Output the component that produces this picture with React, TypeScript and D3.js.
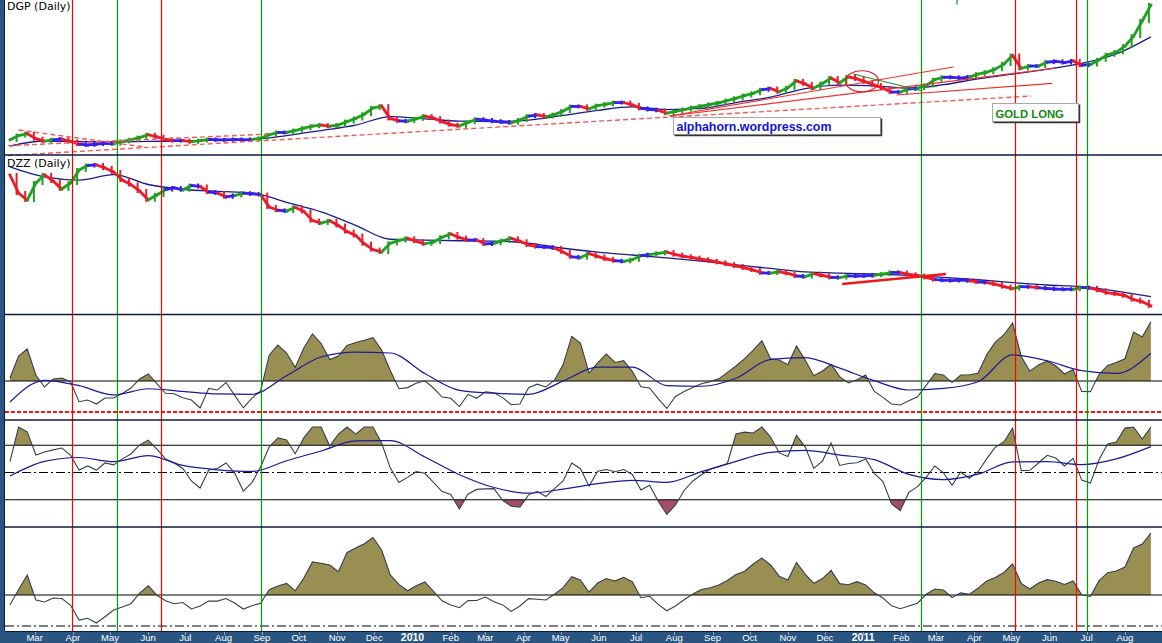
import React, { useEffect, useRef } from "react";
import * as d3 from "d3";

// weekly closes (Mondays, 9 Feb 2009 .. 22 Aug 2011)
const dgpClose = [
  25.3, 26.4, 26.9, 25.6, 25.0, 25.3, 25.5, 24.9, 24.2, 24.0,
  24.2, 24.4, 24.3, 24.9, 25.3, 25.9, 26.6, 26.1, 25.4, 25.1,
  25.1, 24.8, 25.1, 25.4, 25.3, 25.3, 25.4, 25.3, 25.4, 25.7,
  26.6, 27.2, 27.2, 27.7, 28.3, 28.8, 29.1, 28.8, 29.1, 30.0,
  30.8, 31.9, 33.5, 34.0, 30.8, 30.2, 30.1, 30.7, 31.4, 30.9,
  30.0, 29.2, 28.9, 29.8, 30.6, 30.4, 30.1, 29.9, 29.7, 30.4,
  31.4, 31.7, 31.3, 31.8, 32.7, 33.9, 33.9, 33.3, 34.1, 34.5,
  34.9, 34.9, 34.3, 33.4, 33.1, 32.9, 32.2, 32.6, 33.1, 33.6,
  34.0, 34.4, 34.8, 35.4, 36.0, 36.7, 37.3, 38.2, 38.5, 37.7,
  38.7, 40.5, 39.7, 38.6, 39.8, 41.2, 40.0, 41.5, 41.0, 40.2,
  39.4, 38.6, 37.6, 37.6, 38.4, 38.6, 39.3, 40.8, 41.4, 41.4,
  41.2, 41.5, 42.2, 42.7, 43.5, 44.8, 47.0, 43.7, 44.3, 44.3,
  45.3, 45.5, 45.2, 45.6, 44.5, 44.7, 45.9, 47.2, 47.9, 49.4,
  52.0, 55.9, 60.0,
];
// moving average, every 4th week
const dgpAvg = [
  23.7, 25.0, 24.9, 24.8, 24.9, 25.0, 25.2, 25.4, 26.4, 27.7, 29.1, 31.3,
  30.7, 30.1, 30.0, 30.4, 31.6, 32.9, 33.8, 33.1, 33.4, 34.9, 36.3, 38.5,
  39.4, 39.2, 38.6, 39.5, 41.0, 42.2, 43.5, 45.0, 47.4, 51.8,
];

const dzzClose = [
  11.98, 10.88, 10.45, 11.49, 11.98, 11.61, 11.13, 11.49, 12.28, 12.56,
  12.59, 12.41, 12.16, 11.67, 11.4, 11.0, 10.47, 10.76, 11.09, 11.19,
  11.08, 11.34, 11.28, 10.94, 10.88, 10.65, 10.73, 10.87, 10.83, 10.79,
  10.03, 9.83, 9.78, 10.01, 9.76, 9.2, 9.05, 9.19, 8.9, 8.53,
  8.29, 7.79, 7.43, 7.28, 7.81, 7.98, 8.12, 7.94, 7.78, 7.89,
  8.18, 8.38, 8.16, 8.01, 8.01, 7.77, 7.82, 7.97, 8.12, 7.94,
  7.71, 7.61, 7.59, 7.53, 7.29, 6.99, 6.94, 7.18, 7.01, 6.86,
  6.75, 6.71, 6.81, 7.06, 7.12, 7.2, 7.28, 7.12, 7.02, 6.94,
  6.84, 6.75, 6.65, 6.54, 6.43, 6.31, 6.18, 6.01, 6.0, 6.07,
  5.98, 5.82, 5.78, 5.96, 5.85, 5.74, 5.72, 5.82, 5.82, 5.83,
  5.87, 5.93, 6.04, 6.03, 5.92, 5.85, 5.73, 5.6, 5.56, 5.54,
  5.57, 5.53, 5.46, 5.42, 5.32, 5.17, 5.05, 5.17, 5.16, 5.1,
  5.06, 5.02, 5.01, 5.01, 5.12, 5.09, 4.95, 4.79, 4.73, 4.62,
  4.38, 4.25, 3.99,
];
const dzzAvg = [
  12.47, 11.86, 11.67, 12.0, 11.4, 11.11, 10.98, 10.89, 10.31, 9.73, 8.91, 8.06,
  8.01, 7.97, 7.95, 7.83, 7.51, 7.28, 7.1, 6.92, 6.72, 6.5, 6.28, 6.07,
  5.99, 5.94, 5.85, 5.74, 5.59, 5.42, 5.27, 5.17, 4.89, 4.56,
];

// panel 3 oscillator
const momentum = [
  32.9, 54.2, 61.0, 35.8, 24.2, 31.9, 32.9, 29.3, 10.0, 11.6,
  7.7, 13.5, 13.5, 18.0, 23.2, 31.9, 36.8, 27.5, 18.1, 17.7,
  13.8, 11.6, 3.9, 22.9, 21.3, 28.5, 16.1, 3.9, 13.5, 20.3,
  55.2, 64.8, 57.1, 43.2, 61.9, 75.5, 66.3, 50.7, 54.2, 64.4,
  67.3, 69.4, 71.9, 60.0, 40.2, 22.5, 23.6, 27.8, 30.2, 23.2,
  14.5, 13.3, 5.3, 17.1, 13.3, 19.5, 18.7, 13.9, 7.0, 7.7,
  23.5, 26.9, 24.2, 30.8, 45.9, 73.2, 66.8, 37.7, 47.5, 56.1,
  47.9, 49.7, 39.4, 24.5, 23.2, 12.9, 3.4, 15.0, 19.8, 23.6,
  27.4, 29.4, 32.1, 38.3, 44.5, 51.7, 59.8, 68.9, 51.6, 50.3,
  45.8, 64.0, 50.3, 35.0, 39.7, 46.1, 34.2, 28.2, 31.3, 35.8,
  19.9, 14.2, 7.8, 6.8, 10.9, 14.7, 25.7, 37.2, 35.9, 28.5,
  35.8, 36.0, 37.5, 55.4, 67.6, 74.8, 86.1, 53.7, 39.4, 45.6,
  49.2, 44.7, 36.8, 41.1, 19.9, 19.7, 36.3, 45.1, 47.9, 51.5,
  77.4, 72.6, 87.4,
];
const momentumAvg = [
  9.7, 30.7, 25.5, 16.5, 22.5, 20.0, 17.5, 17.1, 35.0, 53.2, 57.9, 57.1,
  37.2, 21.0, 18.2, 17.1, 29.9, 43.4, 43.4, 25.6, 24.9, 32.6, 51.0, 52.7,
  42.4, 30.3, 21.3, 22.8, 29.3, 55.2, 49.6, 40.0, 37.3, 56.8,
];

// panel 4 oscillator (+/-100 bands)
const cci = [
  40, 193, 149, 64, 75, 83, 90, 64, 9, 24,
  9, 35, 28, 50, 68, 101, 119, 86, 50, 35,
  15, -31, -57, 9, 15, 35, -2, -68, -37, 20,
  94, 127, 119, 69, 127, 185, 178, 97, 141, 185,
  141, 193, 193, 108, 17, -37, -18, 3, -3, -36,
  -70, -81, -134, -79, -62, -60, -59, -102, -124, -127,
  -82, -69, -88, -59, -31, 35, 14, -50, 5, 11,
  3, 11, -7, -64, -47, -105, -154, -119, -66, -31,
  -8, 12, 21, 33, 141, 148, 145, 185, 130, 72,
  59, 136, 94, 15, 42, 108, 26, 33, 36, 50,
  -3, -33, -115, -140, -73, -52, -18, 24, -1, -47,
  2, -21, 3, 50, 93, 113, 163, 7, 8, 35,
  63, 53, 24, 52, -28, -39, 47, 105, 112, 163,
  185, 123, 185,
];
const cciAvg = [
  -13, 41, 55, 40, 62, 26, 10, 4, 43, 79, 116, 117,
  57, -8, -55, -76, -61, -41, -29, -36, 3, 41, 74, 81,
  64, 47, -7, -26, -6, 39, 40, 29, 50, 95,
];

// panel 5 oscillator
const breadth = [
  20.3, 35.3, 49.4, 25.2, 23.2, 27.1, 26.6, 20.3, 5.8, 7.5,
  2.9, 9.0, 15.5, 18.4, 21.6, 31.9, 38.9, 29.8, 24.5, 21.6,
  22.7, 16.5, 19.4, 24.2, 24.1, 26.6, 22.3, 16.4, 19.7, 22.0,
  35.2, 38.7, 41.2, 34.1, 46.5, 62.0, 60.7, 59.1, 52.6, 71.2,
  75.5, 79.7, 85.7, 73.6, 49.4, 40.3, 34.1, 39.0, 42.7, 33.5,
  24.4, 20.3, 17.7, 24.6, 24.7, 28.0, 23.5, 20.4, 14.1, 19.4,
  26.5, 25.9, 25.2, 30.7, 37.1, 47.8, 44.5, 32.7, 41.6, 45.9,
  43.5, 47.2, 42.9, 27.4, 28.8, 20.9, 14.7, 19.4, 25.4, 31.0,
  35.3, 37.1, 39.6, 44.1, 49.9, 53.0, 60.0, 65.8, 59.1, 48.2,
  44.5, 61.5, 50.3, 41.3, 45.9, 53.8, 41.0, 40.0, 42.9, 39.8,
  32.1, 27.1, 19.5, 16.7, 19.4, 22.1, 30.7, 35.8, 34.9, 27.6,
  32.1, 30.8, 36.5, 43.6, 47.0, 51.8, 60.0, 41.3, 35.8, 41.6,
  44.9, 43.3, 40.2, 43.6, 30.2, 28.6, 43.9, 51.6, 53.2, 57.1,
  75.5, 79.4, 90.0,
];

const buySignals = ["2009-05-07", "2009-08-31", "2011-02-17", "2011-07-01"];
const sellSignals = ["2009-03-31", "2009-06-11", "2011-05-04", "2011-06-22"];

const monthLabels = [
  "Mar", "Apr", "May", "Jun", "Jul", "Aug", "Sep", "Oct", "Nov", "Dec",
  "2010", "Feb", "Mar", "Apr", "May", "Jun", "Jul", "Aug", "Sep", "Oct", "Nov", "Dec",
  "2011", "Feb", "Mar", "Apr", "May", "Jun", "Jul", "Aug",
];

// hand drawn trendlines on DGP: [date, price] -> [date, price]
const dgpTrendDashed: [string, number, string, number][] = [
  ["2009-02-16", 27.83, "2009-05-29", 23.46],
  ["2009-02-01", 23.71, "2009-09-07", 26.8],
  ["2009-02-01", 21.14, "2011-05-17", 36.58],
];
const dgpTrendSolid: [string, number, string, number][] = [
  ["2010-07-28", 31.44, "2011-03-15", 44.05],
  ["2010-07-28", 31.44, "2011-06-07", 43.79],
  ["2011-01-28", 36.84, "2011-06-03", 39.85],
];

const GREEN = "#1fa01f";
const RED = "#ec1a2a";
const BLUE = "#3420ee";

const App = () => {
  const chartRef = useRef<SVGSVGElement | null>(null);

  useEffect(() => {
    const width = 1162;
    const height = 643;
    const parse = (s: string) => d3.timeParse("%Y-%m-%d")(s) as Date;
    const weeks = d3.timeMonday.range(parse("2009-02-09"), parse("2011-08-23"));
    const avgWeeks = weeks.filter((_, i) => i % 4 === 0);

    const x = d3.scaleTime().domain([parse("2009-02-05"), parse("2011-08-31")]).range([5, width]);
    const yDgp = d3.scaleLinear().domain([21.4, 61.3]).range([155, 0]);
    const yDzz = d3.scaleLinear().domain([3.5, 13.2]).range([314, 155]);
    const yMom = d3.scaleLinear().domain([0, 100]).range([412, 308.67]);
    const yCci = d3.scaleLinear().domain([-200, 167]).range([527, 427]).clamp(true);
    const yBr = d3.scaleLinear().domain([0, 100]).range([626, 522.7]);

    const svg = d3.select(chartRef.current);
    svg.selectAll("*").remove();
    svg.append("rect").attr("width", width).attr("height", height).attr("fill", "#fff");

    // --- oscillator fills
    const band = (vals: number[], y: d3.ScaleLinear<number, number>, level: number, above: boolean) => {
      const ly = y(level);
      const pts = vals.map((v, i) => [x(weeks[i]), y(v)] as [number, number]);
      const keep = (py: number) => (above ? py < ly : py > ly);
      const out: [number, number][] = [];
      pts.forEach((p, i) => {
        if (i > 0) {
          const q = pts[i - 1];
          if (keep(p[1]) !== keep(q[1])) {
            const t = (ly - q[1]) / (p[1] - q[1]);
            out.push([q[0] + t * (p[0] - q[0]), ly]);
          }
        }
        out.push([p[0], keep(p[1]) ? p[1] : ly]);
      });
      return d3.area<[number, number]>().x((d) => d[0]).y0(ly).y1((d) => d[1])(out);
    };
    const OLIVE = "#9a8f52";
    svg.append("path").attr("d", band(momentum, yMom, 30, true)).attr("fill", OLIVE);
    svg.append("path").attr("d", band(cci, yCci, 100, true)).attr("fill", OLIVE);
    svg.append("path").attr("d", band(cci, yCci, -100, false)).attr("fill", "#a24e6b");
    svg.append("path").attr("d", band(breadth, yBr, 30, true)).attr("fill", OLIVE);

    // --- reference levels
    const hline = (yv: number, stroke: string, w: number, dash?: string) => {
      svg.append("line").attr("x1", 5).attr("x2", width).attr("y1", yv).attr("y2", yv)
        .attr("stroke", stroke).attr("stroke-width", w).attr("stroke-dasharray", dash ?? null);
    };
    hline(yMom(30), "#000", 1.2);
    hline(yMom(0), "#ff1010", 2, "4,2");
    hline(yCci(100), "#000", 1.2);
    hline(yCci(-100), "#000", 1.2);
    hline(yCci(0), "#000", 1.1, "9,3,2,3");
    hline(yBr(30), "#000", 1.2);
    hline(yBr(0), "#000", 1.1, "9,3,2,3");

    // --- oscillator lines
    const oscLine = (vals: number[], y: d3.ScaleLinear<number, number>, dates: Date[], stroke: string, w: number) => {
      svg.append("path").datum(vals).attr("fill", "none").attr("stroke", stroke).attr("stroke-width", w)
        .attr("d", d3.line<number>().x((_, i) => x(dates[i])).y((d) => y(d)).curve(
          dates === weeks ? d3.curveLinear : d3.curveMonotoneX));
    };
    oscLine(momentum, yMom, weeks, "#34404e", 1.1);
    oscLine(momentumAvg, yMom, avgWeeks, "#1a1a9c", 1.2);
    oscLine(cci, yCci, weeks, "#34404e", 1.1);
    oscLine(cciAvg, yCci, avgWeeks, "#1a1a9c", 1.2);
    oscLine(breadth, yBr, weeks, "#34404e", 1.1);

    // --- price bars (colour by weekly impulse)
    const bars = (vals: number[], y: d3.ScaleLinear<number, number>) => {
      const segs = vals.slice(1).map((v, k) => {
        const ch = (v - vals[k]) / vals[k];
        return { a: vals[k], b: v, i: k + 1, c: ch > 0.01 ? GREEN : ch < -0.01 ? RED : BLUE };
      });
      const g = svg.append("g");
      g.selectAll("line.seg").data(segs).join("line").attr("class", "seg")
        .attr("x1", (d) => x(weeks[d.i - 1])).attr("x2", (d) => x(weeks[d.i]))
        .attr("y1", (d) => y(d.a)).attr("y2", (d) => y(d.b))
        .attr("stroke", (d) => d.c)
        .attr("stroke-width", 2.8).attr("stroke-linecap", "square");
      // daily-range ticks
      g.selectAll("line.tick").data(segs).join("line").attr("class", "tick")
        .attr("x1", (d) => x(weeks[d.i]) - 2).attr("x2", (d) => x(weeks[d.i]) - 2)
        .attr("y1", (d) => Math.min(y(d.a), y(d.b)) - 2).attr("y2", (d) => Math.max(y(d.a), y(d.b)) + 2)
        .attr("stroke", (d) => d.c).attr("stroke-width", 2);
    };
    oscLine(dgpAvg, yDgp, avgWeeks, "#1a1a8a", 1.3);
    oscLine(dzzAvg, yDzz, avgWeeks, "#1a1a8a", 1.3);
    bars(dgpClose, yDgp);
    bars(dzzClose, yDzz);

    // --- trendlines
    dgpTrendDashed.forEach(([d1, p1, d2, p2]) => {
      svg.append("line").attr("x1", x(parse(d1))).attr("y1", yDgp(p1)).attr("x2", x(parse(d2))).attr("y2", yDgp(p2))
        .attr("stroke", "#f05a5a").attr("stroke-width", 1.4).attr("stroke-dasharray", "5,3");
    });
    dgpTrendSolid.forEach(([d1, p1, d2, p2]) => {
      svg.append("line").attr("x1", x(parse(d1))).attr("y1", yDgp(p1)).attr("x2", x(parse(d2))).attr("y2", yDgp(p2))
        .attr("stroke", "#f03030").attr("stroke-width", 1.2);
    });
    svg.append("line").attr("x1", x(parse("2010-12-24"))).attr("y1", yDgp(42.25))
      .attr("x2", x(parse("2011-02-18"))).attr("y2", yDgp(37.87)).attr("stroke", "#2a8a2a").attr("stroke-width", 1.2);
    svg.append("ellipse").attr("cx", x(parse("2010-12-31"))).attr("cy", yDgp(40.39))
      .attr("rx", 16.5).attr("ry", 10.5).attr("fill", "none").attr("stroke", "#e02020").attr("stroke-width", 1.2);
    svg.append("line").attr("x1", x(parse("2010-12-15"))).attr("y1", yDzz(5.33))
      .attr("x2", x(parse("2011-03-09"))).attr("y2", yDzz(5.94)).attr("stroke", "#f01818").attr("stroke-width", 2.6);
    svg.append("line").attr("x1", x(parse("2011-03-18"))).attr("x2", x(parse("2011-03-18")))
      .attr("y1", yDgp(61.29)).attr("y2", yDgp(60.14)).attr("stroke", "#009a00").attr("stroke-width", 1.2);

    // --- signal verticals
    const vline = (d: string, c: string) => {
      const xv = Math.round(x(parse(d))) + 0.5;
      svg.append("line").attr("x1", xv).attr("x2", xv).attr("y1", 0).attr("y2", 631).attr("stroke", c).attr("stroke-width", 1.2);
    };
    sellSignals.forEach((d) => vline(d, "#ff0000"));
    buySignals.forEach((d) => vline(d, "#00a000"));

    // --- panel separators
    [155, 314.5, 420, 527].forEach((yv) => hline(yv, "#0c1a40", 1.4));

    // --- annotation boxes
    const note = (d: string, p: number, w: number, h: number, label: string, color: string, size: number) => {
      const bx = Math.round(x(parse(d))) + 0.5;
      const by = Math.round(yDgp(p)) + 0.5;
      svg.append("rect").attr("x", bx).attr("y", by).attr("width", w).attr("height", h)
        .attr("fill", "#fff").attr("stroke", "#a8a8a8");
      svg.append("path").attr("d", `M${bx + w + 1},${by + 1}V${by + h + 1}H${bx + 1}`)
        .attr("fill", "none").attr("stroke", "#333").attr("stroke-width", 1.5);
      svg.append("text").attr("x", bx + 3).attr("y", by + h - 4).text(label)
        .attr("font-family", "'Liberation Sans', Arial, sans-serif").attr("font-weight", "bold")
        .attr("font-size", size).attr("fill", color);
    };
    note("2010-07-31", 31.18, 207, 17, "alphahorn.wordpress.com", "#1414d8", 12.4);
    note("2011-04-15", 34.78, 86, 18, "GOLD LONG", "#118811", 11.3);

    // --- titles
    const title = (t: string, yv: number) =>
      svg.append("text").attr("x", 7).attr("y", yv).text(t)
        .attr("font-family", "'DejaVu Sans', sans-serif").attr("font-size", 11).attr("fill", "#000");
    title("DGP (Daily)", 10);
    title("DZZ (Daily)", 166.5);

    // --- frame and date axis
    svg.append("rect").attr("x", 0).attr("y", 0).attr("width", 4).attr("height", height).attr("fill", "#2a5580");
    svg.append("line").attr("x1", 4.5).attr("x2", 4.5).attr("y1", 0).attr("y2", height).attr("stroke", "#0c1a40");
    svg.append("rect").attr("x", 0).attr("y", 631).attr("width", width).attr("height", 12).attr("fill", "#2a5580");
    hline(631.5, "#0c1a40", 1.2);
    const months = d3.timeMonth.range(parse("2009-03-01"), parse("2011-08-02"));
    svg.append("g").selectAll("line").data(months).join("line")
      .attr("x1", (d) => Math.round(x(d)) + 0.5).attr("x2", (d) => Math.round(x(d)) + 0.5)
      .attr("y1", 632).attr("y2", 635).attr("stroke", "#8ea4bc");
    svg.append("g").selectAll("text").data(months).join("text")
      .attr("x", (d) => x(d)).attr("y", 641).attr("text-anchor", "middle")
      .attr("font-family", "'Liberation Sans', Arial, sans-serif")
      .attr("font-size", (_, i) => (monthLabels[i].length === 4 ? 10.5 : 9.5))
      .attr("font-weight", (_, i) => (monthLabels[i].length === 4 ? "bold" : "normal"))
      .attr("fill", "#fff")
      .text((_, i) => monthLabels[i]);
  }, []);

  return (
    <svg
      ref={chartRef}
      width={1162}
      height={643}
      style={{ position: "fixed", left: 0, top: 0, display: "block" }}
    ></svg>
  );
};

export default App;
